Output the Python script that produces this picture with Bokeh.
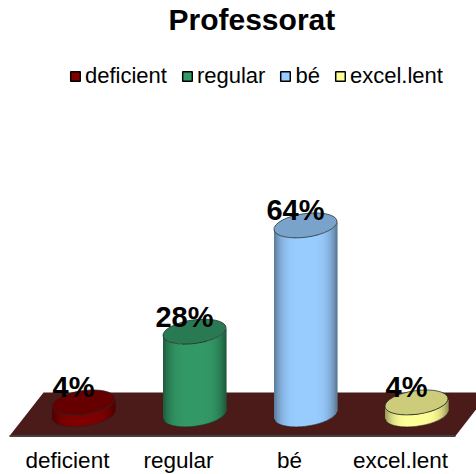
import math
from bokeh.plotting import figure
from bokeh.models import Range1d, Legend, LegendItem, FixedTicker, ColumnDataSource
from bokeh.core.properties import value
from bokeh.embed import file_html
from bokeh.resources import INLINE

categories = ["deficient", "regular", "bé", "excel.lent"]
percents = [4, 28, 64, 4]
base_colors = ["#800000", "#339966", "#99CCFF", "#FFFF99"]
top_colors = ["#660000", "#297A52", "#7AA3CC", "#CCCC7A"]
FONT = "Liberation Sans"

# scale: pixels per category step and per percent point
PX_X = 111.0
PX_Y = 2.914
FRAME_W = 476
FRAME_H = 433.5
X0_PX = 67.0        # px of category 0 from frame left
Y0_PX = 374.0       # px of value 0 from frame top
DEPTH = 16 / PX_X   # cylinders stand behind the tick positions

RX, RY, TILT = 31.8, 11.8, math.radians(8)


def mix(hex_color, f):
    r, g, b = (int(hex_color[i:i + 2], 16) for i in (1, 3, 5))
    return "#%02x%02x%02x" % (int(r * f), int(g * f), int(b * f))


def lower_dy(dx):
    s, c = math.sin(TILT), math.cos(TILT)
    A = s * s / RX**2 + c * c / RY**2
    B = 2 * dx * s * c * (1 / RX**2 - 1 / RY**2)
    C = dx * dx * (c * c / RX**2 + s * s / RY**2) - 1
    disc = max(B * B - 4 * A * C, 0)
    return (-B - math.sqrt(disc)) / (2 * A)


p = figure(width=476, height=474, output_backend="svg", toolbar_location=None,
           x_range=Range1d(-X0_PX / PX_X, (FRAME_W - X0_PX) / PX_X),
           y_range=Range1d((Y0_PX - FRAME_H) / PX_Y, Y0_PX / PX_Y),
           min_border=0, min_border_left=0, min_border_right=0, min_border_top=0,
           min_border_bottom=0, outline_line_color=None,
           title="Professorat")
p.xgrid.visible = False
p.ygrid.visible = False
p.yaxis.visible = False

p.title.align = "left"
p.title.text_font = FONT
p.title.text_font_size = "30px"
p.title.text_font_style = "bold"
p.title.text_color = "#000000"
p.title.offset = 168
p.title.standoff = 0

ax = p.xaxis[0]
ax.ticker = FixedTicker(ticks=list(range(len(categories))))
ax.major_label_overrides = {i: c for i, c in enumerate(categories)}
ax.major_label_text_font = FONT
ax.major_label_text_font_size = "22.5px"
ax.major_label_text_color = "#000000"
ax.major_label_standoff = 1
ax.major_tick_in = 0
ax.major_tick_out = 0
ax.axis_line_color = None
ax.major_tick_line_color = None
ax.minor_tick_line_color = None
ax.fixed_location = -32 / PX_Y

# floor of the 3D chart
floor_front = -21.5 / PX_Y
floor_back = 21.5 / PX_Y
fx = [-0.5225, 3.495, 3.80, -0.216]
fy = [floor_front, floor_front, floor_back, floor_back]
p.patch(fx, fy, fill_color="#4A1B19", line_color=None)
p.line(fx[:2], fy[:2], line_color="#44403f", line_width=2)

# swatches used by the legend, hidden behind the cylinders
items = []
for i, (c, v, col) in enumerate(zip(categories, percents, base_colors)):
    r = p.quad(left=[i + DEPTH - 0.1], right=[i + DEPTH + 0.1], top=[v], bottom=[0],
               fill_color=col, line_color="#000000", line_width=1.5)
    items.append(LegendItem(label=c, renderers=[r]))

# cylinder bodies as shaded strips
N = 42
xs, ys, colors = [], [], []
rim_x, rim_y = [], []
half = 31.5
for i, (v, col) in enumerate(zip(percents, base_colors)):
    cx = i + DEPTH
    curve_x, curve_y = [], []
    for k in range(N):
        a = -half + 2 * half * k / N
        b = -half + 2 * half * (k + 1) / N
        mid = (a + b) / 2
        t = abs(mid) / half
        f = 1 - 0.42 * t**4
        x0, x1 = cx + a / PX_X, cx + (b + 0.6) / PX_X
        xs.append([x0, x1, x1, x0])
        ys.append([lower_dy(a) / PX_Y, lower_dy(b) / PX_Y,
                   v + lower_dy(b) / PX_Y, v + lower_dy(a) / PX_Y])
        colors.append(mix(col, f))
        curve_x.append(cx + a / PX_X)
        curve_y.append(lower_dy(a) / PX_Y)
    rim_x.append(curve_x)
    rim_y.append(curve_y)
p.patches(xs, ys, fill_color=colors, line_color=None)
p.multi_line(rim_x, rim_y, line_color="#222222", line_width=1, line_alpha=0.6)

# cylinder tops
centers = [i + DEPTH for i in range(len(percents))]
p.ellipse(centers, percents, width=2 * RX, height=2 * RY, angle=TILT,
          width_units="screen", height_units="screen",
          fill_color=top_colors, line_color="#1f2a2a", line_width=1, line_alpha=0.75)

# value labels
src = ColumnDataSource(dict(x=centers, y=percents, t=["%d%%" % v for v in percents]))
p.text("x", "y", text="t", source=src, x_offset=-10, y_offset=-15,
       text_align="center", text_baseline="middle", text_font=value(FONT),
       text_font_size="29px", text_font_style="bold", text_color="#000000")

legend = Legend(items=items, orientation="horizontal", location=(69, 385),
                glyph_width=12, glyph_height=12, label_standoff=4, spacing=14,
                padding=0, margin=0, border_line_color=None,
                background_fill_alpha=0,
                label_text_font=FONT, label_text_font_size="22px",
                label_text_color="#000000", label_height=20)
p.add_layout(legend, "center")

open("out.html", "w").write(file_html(p, INLINE))
